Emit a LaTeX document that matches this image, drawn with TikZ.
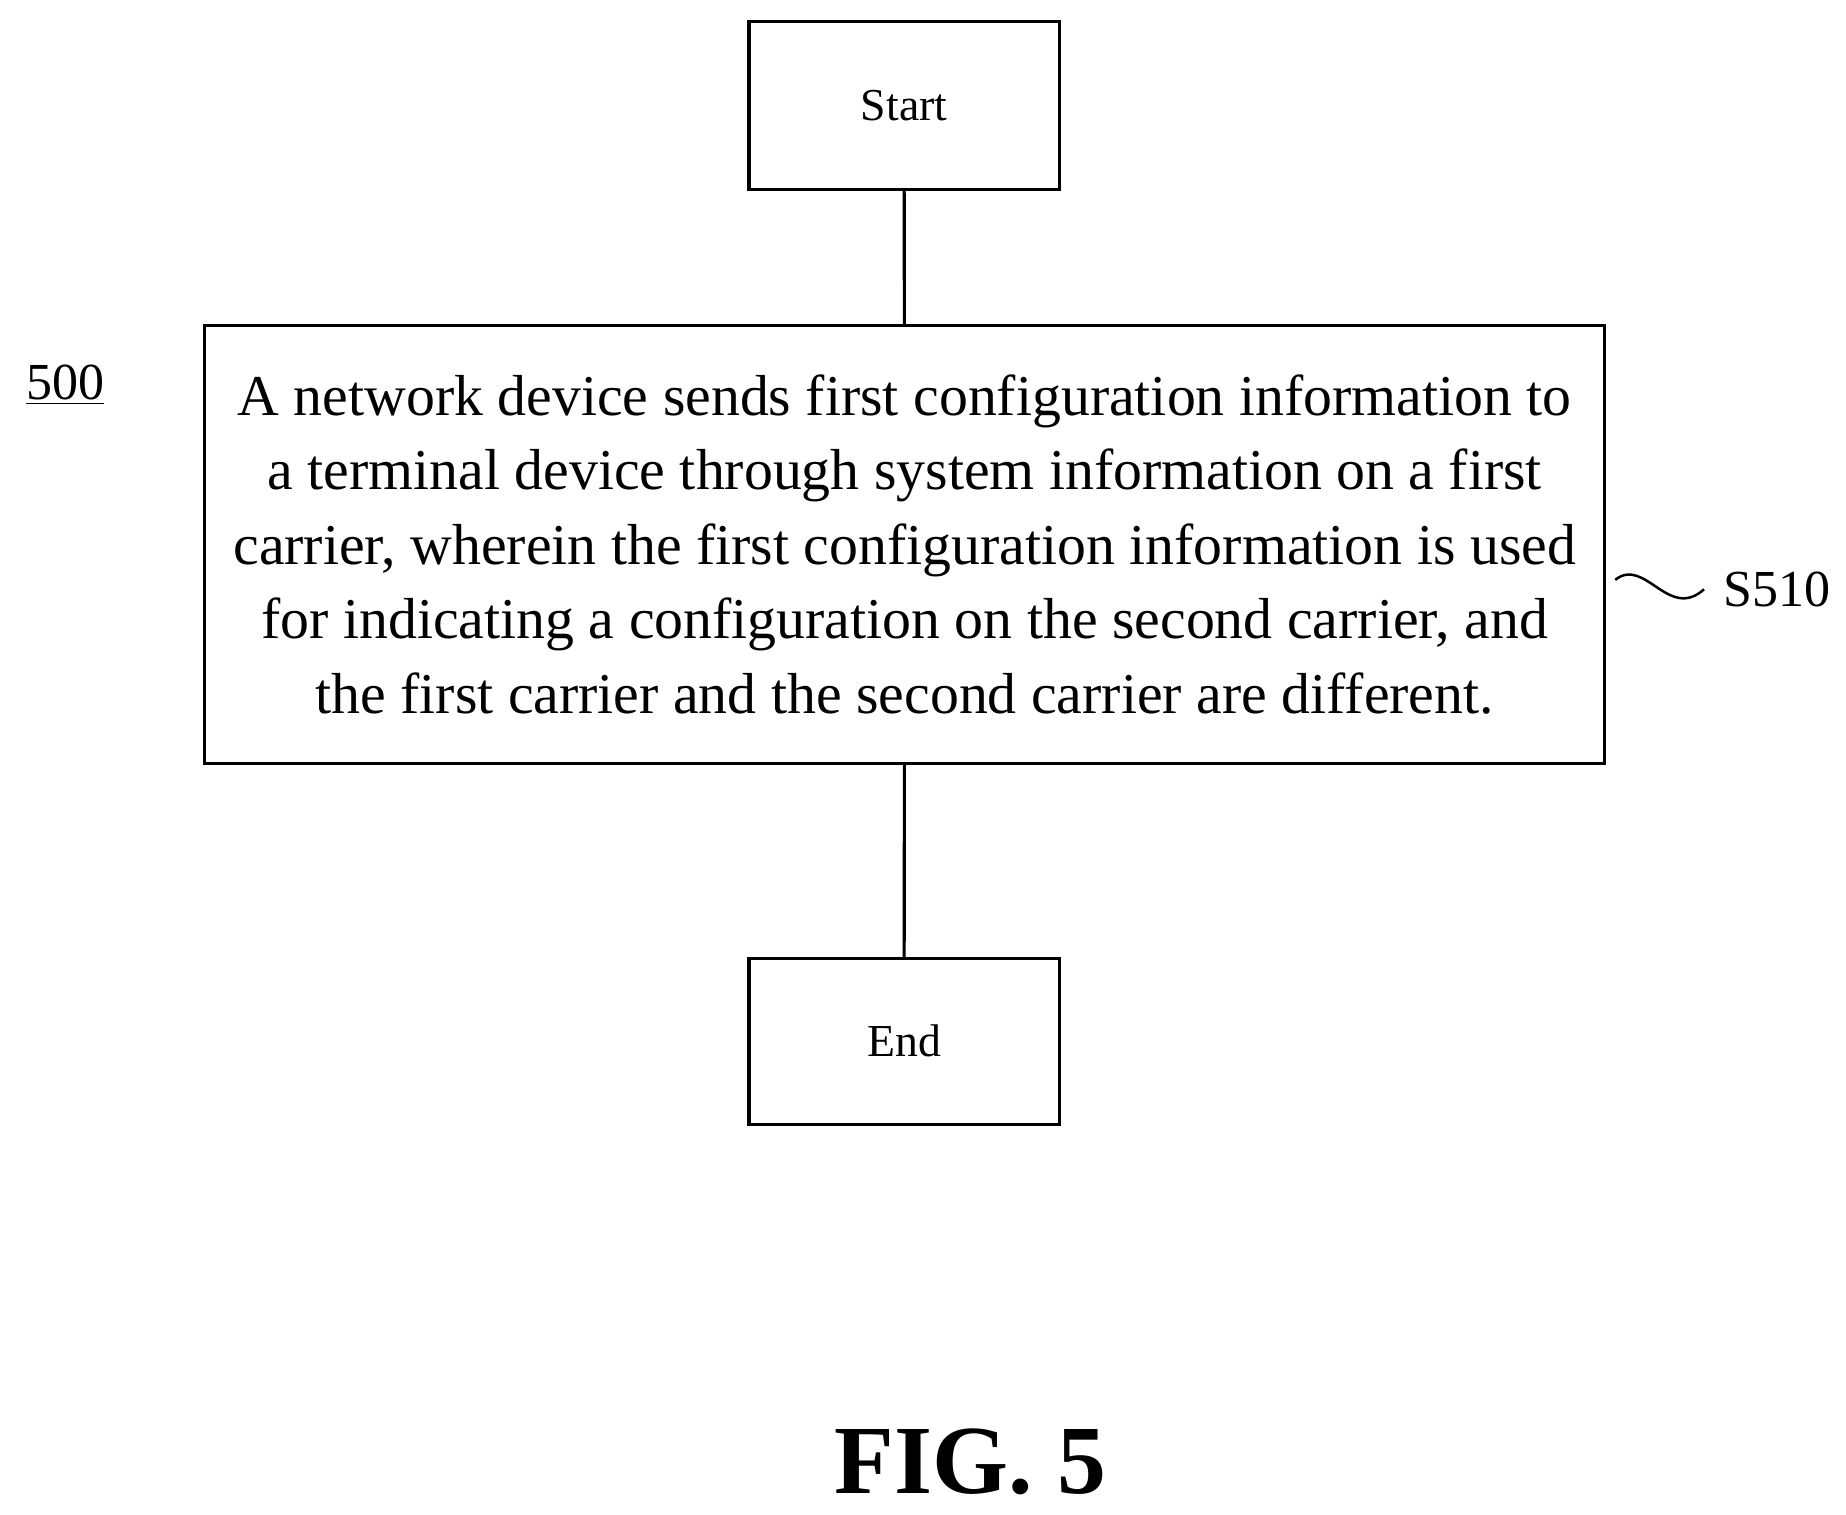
\documentclass[tikz,border=0pt]{standalone}
\usepackage{fontspec}
\setmainfont{Liberation Serif}
\usetikzlibrary{positioning}
\tikzset{
  stepbox/.style={draw, line width=1.5pt, inner sep=0pt},
  flowline/.style={line width=1.5pt}
}
\begin{document}
\begin{tikzpicture}[x=0.02cm,y=-0.02cm]
		\useasboundingbox (0,0) rectangle (1560,1280);
		% boxes
		\node[stepbox, minimum width=262*0.02cm, minimum height=142*0.02cm, font=\fontsize{22}{26}\selectfont] (start) at (764,89) {Start};
		\node[stepbox, minimum width=1183*0.02cm, minimum height=370*0.02cm, align=center,
			font=\fontsize{27.8}{35.8}\selectfont] (send) at (764.5,460)
			{A network device sends first configuration information to\\
			 a terminal device through system information on a first\\
			 carrier, wherein the first configuration information is used\\
			 for indicating a configuration on the second carrier, and\\
			 the first carrier and the second carrier are different.};
		\node[stepbox, minimum width=262*0.02cm, minimum height=140*0.02cm, font=\fontsize{22}{26}\selectfont] (end) at (764,880) {End};
		% connectors
		\draw[flowline] (start) -- (send);
		\draw[flowline] (send) -- (end);
		% labels
		\node[font=\fontsize{25}{30}\selectfont] (fignum) at (55,325) {\underline{500}};
		\node[font=\fontsize{25}{30}\selectfont, anchor=west] (steplbl) at (1450,498) {S510};
		\coordinate (wavestart) at (1365,490);
		\draw[line width=1.2pt] (wavestart) .. controls (1390,470) and (1410,525) .. ([xshift=-0.2cm]steplbl.west);
		\node[font=\fontsize{47}{56}\selectfont\bfseries] (caption) at (820,1235) {FIG. 5};
\end{tikzpicture}
\end{document}
